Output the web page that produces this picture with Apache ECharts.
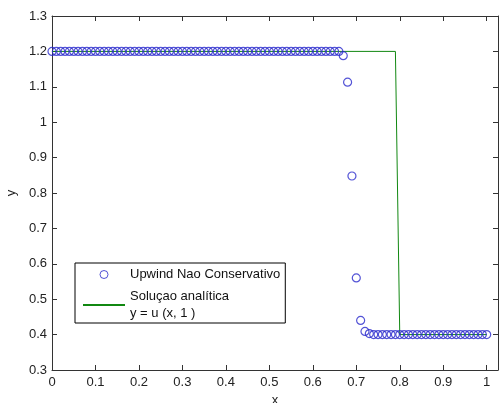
<!DOCTYPE html>
<html>
<head>
<meta charset="utf-8">
<script src="https://cdn.jsdelivr.net/npm/echarts@6/dist/echarts.min.js"></script>
<style>html,body{margin:0;padding:0;background:#fff;}#c{width:499px;height:403px;}</style>
</head>
<body>
<div id="c"></div>
<script>
// Numerical solution (Upwind Nao Conservativo), x = 0 .. 1 step 0.01
var numX = [0.00,0.01,0.02,0.03,0.04,0.05,0.06,0.07,0.08,0.09,
            0.10,0.11,0.12,0.13,0.14,0.15,0.16,0.17,0.18,0.19,
            0.20,0.21,0.22,0.23,0.24,0.25,0.26,0.27,0.28,0.29,
            0.30,0.31,0.32,0.33,0.34,0.35,0.36,0.37,0.38,0.39,
            0.40,0.41,0.42,0.43,0.44,0.45,0.46,0.47,0.48,0.49,
            0.50,0.51,0.52,0.53,0.54,0.55,0.56,0.57,0.58,0.59,
            0.60,0.61,0.62,0.63,0.64,0.65,0.66,0.67,0.68,0.69,
            0.70,0.71,0.72,0.73,0.74,0.75,0.76,0.77,0.78,0.79,
            0.80,0.81,0.82,0.83,0.84,0.85,0.86,0.87,0.88,0.89,
            0.90,0.91,0.92,0.93,0.94,0.95,0.96,0.97,0.98,0.99,
            1.00];
var numY = [1.2,1.2,1.2,1.2,1.2,1.2,1.2,1.2,1.2,1.2,
            1.2,1.2,1.2,1.2,1.2,1.2,1.2,1.2,1.2,1.2,
            1.2,1.2,1.2,1.2,1.2,1.2,1.2,1.2,1.2,1.2,
            1.2,1.2,1.2,1.2,1.2,1.2,1.2,1.2,1.2,1.2,
            1.2,1.2,1.2,1.2,1.2,1.2,1.2,1.2,1.2,1.2,
            1.2,1.2,1.2,1.2,1.2,1.2,1.2,1.2,1.2,1.2,
            1.2,1.2,1.2,1.2,1.2,1.2,1.2,1.188,1.113,0.848,
            0.560,0.440,0.409,0.403,0.400,0.400,0.400,0.400,0.400,0.400,
            0.400,0.400,0.400,0.400,0.400,0.400,0.400,0.400,0.400,0.400,
            0.400,0.400,0.400,0.400,0.400,0.400,0.400,0.400,0.400,0.400,
            0.400];
// Analytic solution y = u(x,1)
var anaX = [0.00, 0.79, 0.80, 1.00];
var anaY = [1.2, 1.2, 0.4, 0.4];
var xTicks = [0,0.1,0.2,0.3,0.4,0.5,0.6,0.7,0.8,0.9,1];
var yTicks = [0.3,0.4,0.5,0.6,0.7,0.8,0.9,1,1.1,1.2,1.3];
var nameNum = 'Upwind Nao Conservativo';
var nameAna = 'Soluçao analítica\ny = u (x, 1 )';

var font = '"Liberation Sans", Arial, sans-serif';
var fs = 13;
var axisColor = '#333';
var blue = '#2828cc';
var green = '#118811';
function pairs(xs, ys){ var o=[]; for (var i=0;i<xs.length;i++) o.push([xs[i], ys[i]]); return o; }
function fmt(v){ return xTicks.concat(yTicks).some(function(t){return Math.abs(t-v)<1e-9;}) ? String(+v.toFixed(1)) : ''; }

var chart = echarts.init(document.getElementById('c'), null, {renderer:'canvas'});
var baseX = {type:'value', min:0, max:1.026, interval:0.1,
  axisLine:{show:true, onZero:false, lineStyle:{color:axisColor, width:1}},
  axisTick:{show:true, inside:true, length:5, lineStyle:{color:axisColor}},
  splitLine:{show:false}};
var baseY = {type:'value', min:0.3, max:1.3, interval:0.1,
  axisLine:{show:true, onZero:false, lineStyle:{color:axisColor, width:1}},
  axisTick:{show:true, inside:true, length:5, lineStyle:{color:axisColor}},
  splitLine:{show:false}};
chart.setOption({
  backgroundColor:'#fff',
  animation:false,
  grid:{left:52, right:1, top:16, bottom:33, containLabel:false, outerBoundsMode:'none'},
  xAxis:[
    Object.assign({}, baseX, {position:'bottom', name:'x', nameLocation:'middle', nameGap:22,
      nameTextStyle:{color:'#222', fontFamily:font, fontSize:fs},
      axisLabel:{show:true, color:'#222', fontFamily:font, fontSize:fs, margin:6, showMaxLabel:false, formatter:fmt}}),
    Object.assign({}, baseX, {position:'top', axisLabel:{show:false}})
  ],
  yAxis:[
    Object.assign({}, baseY, {position:'left', name:'y', nameLocation:'middle', nameGap:29, nameRotate:90,
      nameTextStyle:{color:'#222', fontFamily:font, fontSize:fs},
      axisLabel:{show:true, color:'#222', fontFamily:font, fontSize:fs, margin:5, formatter:fmt}}),
    Object.assign({}, baseY, {position:'right', axisLabel:{show:false}})
  ],
  legend:{
    show:true, orient:'vertical', left:75, top:263,
    itemWidth:42, itemHeight:8, itemGap:5,
    padding:[3,5,1,7],
    borderColor:'#000', borderWidth:1, backgroundColor:'#fff',
    textStyle:{color:'#111', fontFamily:font, fontSize:fs, lineHeight:17},
    data:[
      {name:nameNum, icon:'circle', itemStyle:{color:'rgba(0,0,0,0)', borderColor:blue, borderWidth:1}},
      {name:nameAna, itemStyle:{color:'rgba(0,0,0,0)', borderColor:'rgba(0,0,0,0)', borderWidth:0, opacity:0}}
    ]
  },
  series:[
    {name:nameAna, type:'line', data:pairs(anaX, anaY), showSymbol:false, symbol:'none',
     lineStyle:{color:green, width:1}, itemStyle:{color:green}, z:2},
    {name:nameNum, type:'scatter', data:pairs(numX, numY), symbol:'circle', symbolSize:8,
     itemStyle:{color:'rgba(0,0,0,0)', borderColor:blue, borderWidth:1.2}, z:3}
  ]
});
</script>
</body>
</html>
